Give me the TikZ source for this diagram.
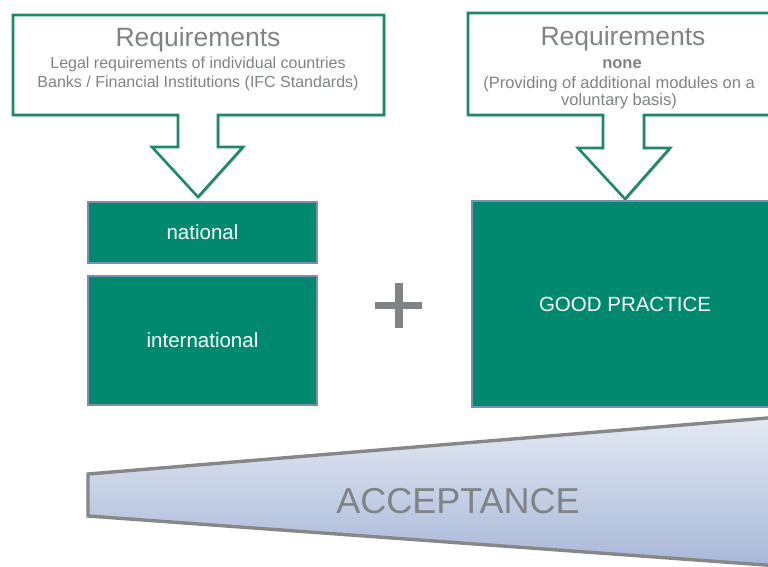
\documentclass[tikz,border=0pt]{standalone}
\usepackage{fontspec}
\setmainfont{Liberation Sans}
\usetikzlibrary{shadows}
\tikzset{
    callout/.style={draw=calloutedge, fill=white, line width=2.6pt, line join=miter,
        drop shadow={shadow xshift=1.4pt, shadow yshift=-1.4pt, fill=black!60, opacity=.5}},
    greenbox/.style={draw=boxedge, fill=boxgreen, line width=1.6pt, text=white, inner sep=0pt,
        font=\fontsize{20.5}{24}\selectfont,
        drop shadow={shadow xshift=1pt, shadow yshift=-1pt, fill=black!40, opacity=.4}},
    reqtitle/.style={anchor=base, text=textgray, inner sep=0pt, font=\fontsize{26.5}{30}\selectfont},
    reqline/.style={anchor=base, text=textgray, inner sep=0pt}
}

\begin{document}
\begin{tikzpicture}[x=1pt,y=-1pt]
  % Colors
    \definecolor{calloutedge}{RGB}{30,136,106}
    \definecolor{boxgreen}{RGB}{0,137,111}
    \definecolor{boxedge}{RGB}{125,142,182}
    \definecolor{textgray}{RGB}{128,131,134}
    \definecolor{acctop}{RGB}{229,234,243}
    \definecolor{accbottom}{RGB}{167,183,216}

  % The graphic
    \useasboundingbox (0,0) rectangle (768,566);
    \clip (0,0) rectangle (768,566);

  % left callout
    \draw[callout] (13,15) -- (384,15) -- (384,115) -- (218,115) -- (218,147) -- (243,147)
      -- (198,197) -- (152,147) -- (178,147) -- (178,115) -- (13,115) -- cycle;
    \node[reqtitle] (lreq) at (198,46) {Requirements};
    \node[reqline, font=\fontsize{16}{19}\selectfont] (llegal) at (198,68) {Legal requirements of individual countries};
    \node[reqline, font=\fontsize{16}{19}\selectfont] (lbanks) at (198,87) {Banks / Financial Institutions (IFC Standards)};

  % right callout
    \draw[callout] (468,13) -- (790,13) -- (790,115) -- (644,115) -- (644,148) -- (670,148)
      -- (625,199) -- (578,148) -- (603,148) -- (603,115) -- (468,115) -- cycle;
    \node[reqtitle] (rreq) at (623,45) {Requirements};
    \node[reqline, font=\fontsize{16.5}{19}\selectfont\bfseries] (rnone) at (622,68) {none};
    \node[reqline, font=\fontsize{16.5}{19}\selectfont] (rprov) at (619,88) {(Providing of additional modules on a};
    \node[reqline, font=\fontsize{16.5}{19}\selectfont] (rvol) at (619,105) {voluntary basis)};

  % green boxes
    \node[greenbox, minimum width=229, minimum height=61] (national) at (202.5,232.5) {national};
    \node[greenbox, minimum width=229, minimum height=129] (international) at (202.5,340.5) {international};
    \node[greenbox, minimum width=306, minimum height=206] (good) at (625,304) {GOOD PRACTICE};

  % plus sign
    \fill[textgray] (375,302) rectangle (422,309);
    \fill[textgray] (394.5,283) rectangle (402.5,328);

  % acceptance wedge
    \draw[draw=black!47, line width=3.4pt, line join=miter, top color=acctop, bottom color=accbottom,
      drop shadow={shadow xshift=1pt, shadow yshift=-1pt, fill=black!40, opacity=.4}]
      (88,474) -- (800,415.3) -- (800,567.5) -- (88,516) -- cycle;
    \node[anchor=base, text=textgray, inner sep=0pt, font=\fontsize{36}{40}\selectfont] (accept) at (458,513) {ACCEPTANCE};
\end{tikzpicture}
\end{document}
